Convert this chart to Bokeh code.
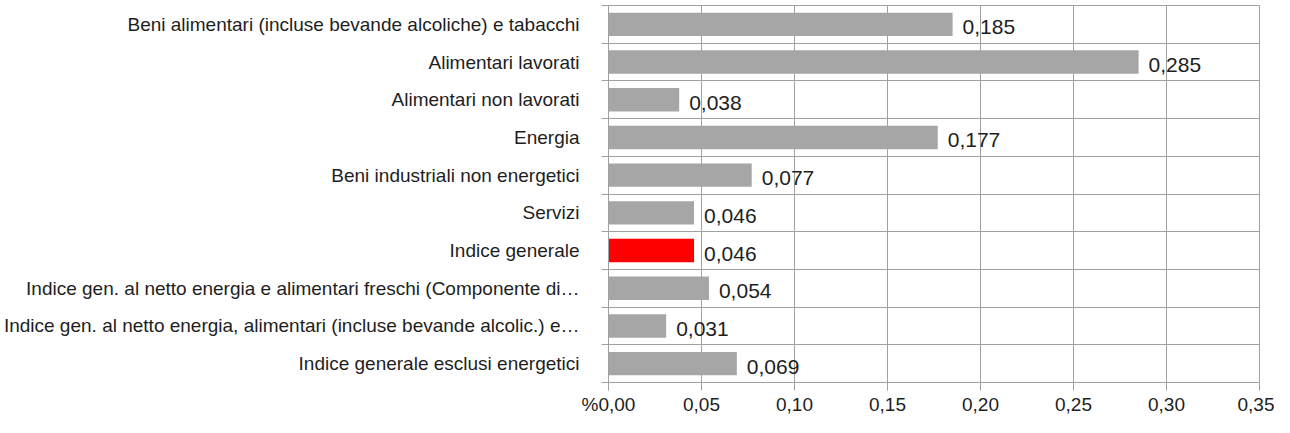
from bokeh.plotting import figure
from bokeh.models import FixedTicker, ColumnDataSource
from bokeh.core.properties import value
from bokeh.embed import file_html
from bokeh.resources import INLINE

categories = [
    "Beni alimentari (incluse bevande alcoliche) e tabacchi",
    "Alimentari lavorati",
    "Alimentari non lavorati",
    "Energia",
    "Beni industriali non energetici",
    "Servizi",
    "Indice generale",
    "Indice gen. al netto energia e alimentari freschi (Componente di\u2026",
    "Indice gen. al netto energia, alimentari (incluse bevande alcolic.) e\u2026",
    "Indice generale esclusi energetici",
]
values = [0.185, 0.285, 0.038, 0.177, 0.077, 0.046, 0.046, 0.054, 0.031, 0.069]
highlight = "Indice generale"
x_ticks = [0.00, 0.05, 0.10, 0.15, 0.20, 0.25, 0.30, 0.35]
x_tick_labels = ["0,00", "0,05", "0,10", "0,15", "0,20", "0,25", "0,30", "0,35"]
axis_unit = "%"

FONT = "Liberation Sans"
GRID = "#a0a0a0"
TEXT = "#1e1e1e"

n = len(categories)
ypos = [n - 0.5 - i for i in range(n)]
colors = ["#ff0000" if c == highlight else "#a6a6a6" for c in categories]
labels = [f"{v:.3f}".replace(".", ",") for v in values]

src = ColumnDataSource(dict(y=ypos, v=values, color=colors, lab=labels))

p = figure(width=1274, height=417, output_backend="svg", toolbar_location=None,
           x_range=(0, 0.35), y_range=(0, n),
           min_border_left=599, min_border_right=15, min_border_top=5, min_border_bottom=35)
p.outline_line_color = GRID
p.background_fill_color = "white"
p.border_fill_color = "white"

p.hbar(y="y", right="v", left=0, height=0.62, color="color", source=src, line_color=None)
p.text(x="v", y="y", text="lab", source=src, x_offset=10, y_offset=3,
       text_font=value(FONT), text_font_size="21px", text_color=TEXT,
       text_align="left", text_baseline="middle")

# x axis (the unit sign sits just left of the first tick label, as in the original)
tick_text = [axis_unit + l if i == 0 else l for i, l in enumerate(x_tick_labels)]
p.xaxis.ticker = FixedTicker(ticks=x_ticks)
p.xaxis.major_label_overrides = {t: l for t, l in zip(x_ticks, tick_text)}
p.xaxis.major_label_text_font = FONT
p.xaxis.major_label_text_font_size = "19px"
p.xaxis.major_label_text_color = TEXT
p.xaxis.major_label_standoff = 3
p.xaxis.major_tick_out = 8
p.xaxis.major_tick_in = 0
p.xaxis.major_tick_line_color = GRID
p.xaxis.minor_tick_line_color = None
p.xaxis.axis_line_color = GRID

# y axis: labels at centres, tick marks at boundaries
p.yaxis.ticker = FixedTicker(ticks=ypos, minor_ticks=list(range(n + 1)))
p.yaxis.major_label_overrides = {y: c for y, c in zip(ypos, categories)}
p.yaxis.major_label_text_font = FONT
p.yaxis.major_label_text_font_size = "19px"
p.yaxis.major_label_text_color = TEXT
p.yaxis.major_tick_line_color = None
p.yaxis.major_tick_out = 0
p.yaxis.major_tick_in = 0
p.yaxis.major_label_standoff = 22
p.yaxis.minor_tick_line_color = GRID
p.yaxis.minor_tick_out = 7
p.yaxis.minor_tick_in = 0
p.yaxis.axis_line_color = GRID

p.xgrid.ticker = FixedTicker(ticks=x_ticks)
p.xgrid.grid_line_color = GRID
p.ygrid.ticker = FixedTicker(ticks=list(range(n + 1)))
p.ygrid.grid_line_color = GRID

open("out.html", "w").write(file_html(p, INLINE))
